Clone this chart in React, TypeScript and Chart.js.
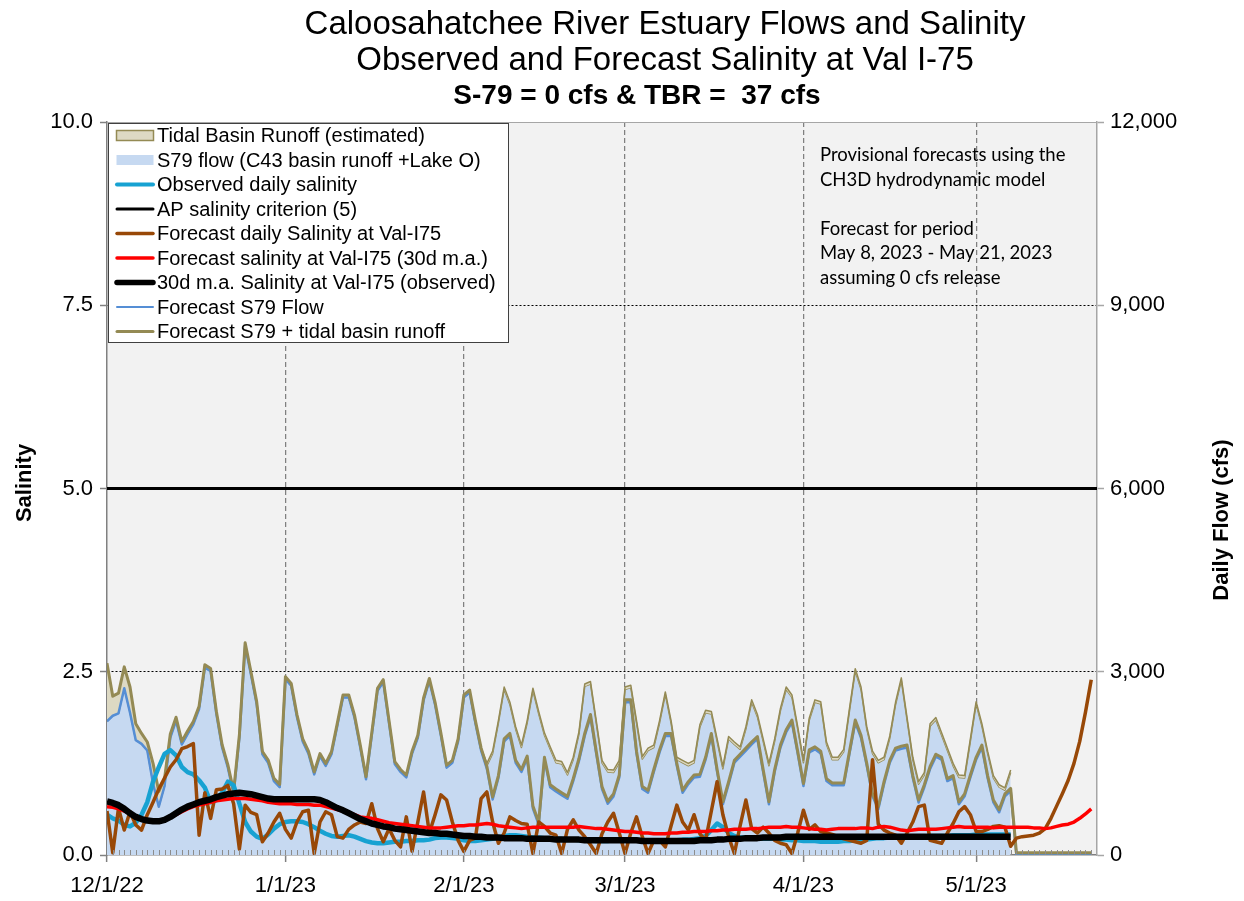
import React, { useEffect, useRef } from 'react';
import { Chart, registerables } from 'chart.js';

Chart.register(...registerables);

// ---------- data ----------
const monthTickDays = [0, 31, 62, 90, 121, 151];
const monthTickLabels = ['12/1/22', '1/1/23', '2/1/23', '3/1/23', '4/1/23', '5/1/23'];
const xMaxDay = 172;
const apCriterion = 5;
const forecastTbr = 37;

// observed S79 flow (cfs), day 0 = 12/1/22 .. day 157 = 5/7/23
const s79Flow = [
  2190, 2280, 2320, 2730, 2330, 1880, 1820, 1710, 1170, 790, 1130,
  1920, 2200, 1810, 1980, 2140, 2390, 3070, 3010, 2310, 1760, 1430, 1000, 1920, 3430, 2960, 2470, 1650, 1510, 1210, 1110,
  2880, 2770, 2260, 1860, 1660, 1320, 1620, 1460, 1650, 2110, 2580, 2580, 2250, 1760, 1240, 1960, 2690, 2830, 2160, 1490,
  1360, 1270, 1660, 1920, 2530, 2850, 2460, 1960, 1430, 1510, 1860, 2580, 2660, 2160, 1710, 1460, 1660, 2160, 2710, 2460,
  2060, 1760, 2160, 2690, 2310, 1960, 1730, 1510, 1490, 1310, 1560, 1980, 2760, 2800, 2160, 1510, 1360, 1350, 1510, 2710,
  2740, 2160, 1570, 1710, 1760, 2160, 2630, 2160, 1560, 1510, 1460, 1510, 2090, 2330, 2310, 1860, 1410, 1900, 1810, 1730,
  2060, 2500, 2260, 1860, 1460, 1860, 2360, 2710, 2580, 2060, 1510, 2200, 2500, 2470, 1810, 1560, 1560, 1690, 2360, 3010,
  2710, 2060, 1660, 1510, 1560, 1910, 2460, 2860, 2210, 1560, 1160, 1310, 2110, 2210, 1960, 1710, 1460, 1270, 1260, 1860,
  2470, 2110, 1660, 1260, 1110, 1060, 1350,
];

// tidal basin runoff (cfs), stacked on S79
const tbrFlow = [
  950, 320, 330, 350, 420, 270, 170, 140, 330, 250, 120,
  60, 55, 50, 50, 45, 45, 45, 45, 45, 45, 45, 45, 45, 45, 45, 45, 45, 45, 45, 45,
  40, 40, 40, 40, 40, 40, 40, 40, 40, 40, 40, 40, 40, 40, 40, 40, 40, 40, 40, 40,
  40, 40, 40, 40, 40, 40, 40, 40, 40, 40, 40, 40, 40, 40, 40, 40, 40, 40, 40, 40,
  40, 40, 40, 40, 40, 40, 40, 40, 40, 40, 40, 40, 40, 40, 40, 40, 40, 40, 40, 40,
  40, 40, 40, 40, 40, 40, 40, 40, 40, 40, 40, 40, 40, 40, 40, 40, 40, 40, 40, 40,
  40, 40, 40, 40, 40, 40, 40, 40, 40, 40, 40, 40, 40, 40, 40, 40, 40, 40, 40, 40,
  40, 40, 40, 40, 40, 40, 40, 40, 40, 40, 40, 40, 40, 40, 40, 40, 40, 40, 40, 40,
  40, 40, 40, 40, 40, 40, 40,
];

// forecast S79 flow, days 66 .. 171 (before day 66 it follows the observed flow)
const fcS79FlowLate = [
  1410, 910, 1260, 1860, 1950,
  1510, 1360, 1580, 760, 500, 1560, 1110, 1040, 980, 920,
  1210, 1540, 1950, 2260, 1660, 1080, 840, 960, 1270, 2500,
  2500, 1660, 1080, 1020, 1360, 1680, 1950, 1950, 1460, 1020,
  1160, 1270, 1280, 1560, 1950, 1360, 830, 1160, 1510, 1610,
  1710, 1810, 1900, 1360, 830, 1360, 1760, 2010, 2170, 1660,
  1130, 1680, 1730, 1660, 1210, 1140, 1140, 1140, 1660, 2170,
  1920, 1460, 960, 750, 1160, 1510, 1710, 1740, 1760, 1260,
  860, 1110, 1410, 1610, 1560, 1210, 1260, 830, 960, 1270,
  1560, 1760, 1260, 860, 700, 960, 1050,
  0, 0, 0, 0, 0, 0, 0, 0, 0, 0, 0, 0, 0, 0,
];

// observed daily salinity, days 0..157
const obsSalinity = [
  0.55, 0.50, 0.47, 0.41, 0.39, 0.44, 0.55, 0.72, 1.00, 1.20, 1.38,
  1.43, 1.36, 1.20, 1.13, 1.10, 1.02, 0.92, 0.72, 0.75, 0.85, 1.00, 0.95, 0.70, 0.45, 0.32, 0.25, 0.22, 0.28, 0.36, 0.42,
  0.45, 0.46, 0.46, 0.45, 0.42, 0.38, 0.33, 0.29, 0.26, 0.25, 0.26, 0.27, 0.25, 0.22, 0.19, 0.17, 0.16, 0.16, 0.17, 0.18,
  0.18, 0.19, 0.19, 0.20, 0.20, 0.21, 0.23, 0.24, 0.24, 0.23, 0.22, 0.20, 0.19, 0.19, 0.20, 0.21, 0.22, 0.24, 0.26, 0.27,
  0.27, 0.26, 0.25, 0.24, 0.24, 0.23, 0.23, 0.22, 0.22, 0.21, 0.21, 0.20, 0.20, 0.20, 0.19, 0.19, 0.19, 0.20, 0.20, 0.20,
  0.21, 0.21, 0.20, 0.20, 0.19, 0.19, 0.19, 0.20, 0.20, 0.21, 0.21, 0.22, 0.23, 0.26, 0.34, 0.43, 0.38, 0.30, 0.26, 0.24,
  0.24, 0.23, 0.23, 0.22, 0.22, 0.22, 0.21, 0.21, 0.20, 0.20, 0.19, 0.19, 0.19, 0.18, 0.18, 0.18, 0.18, 0.19, 0.19, 0.20,
  0.20, 0.21, 0.22, 0.23, 0.23, 0.24, 0.24, 0.24, 0.25, 0.25, 0.25, 0.25, 0.26, 0.26, 0.26, 0.26, 0.27, 0.27, 0.27, 0.27,
  0.28, 0.28, 0.28, 0.28, 0.28, 0.28, 0.28,
];

// observed 30-day moving average salinity, days 0..157
const obsSalinityMa = [
  0.73, 0.71, 0.68, 0.63, 0.57, 0.52, 0.49, 0.47, 0.46, 0.46, 0.48,
  0.52, 0.57, 0.62, 0.66, 0.69, 0.72, 0.74, 0.76, 0.79, 0.81, 0.83, 0.84, 0.85, 0.84, 0.83, 0.81, 0.79, 0.77, 0.76, 0.76,
  0.76, 0.76, 0.76, 0.76, 0.76, 0.76, 0.75, 0.72, 0.68, 0.64, 0.61, 0.57, 0.53, 0.49, 0.46, 0.43, 0.41, 0.39, 0.38, 0.36,
  0.35, 0.34, 0.33, 0.32, 0.31, 0.30, 0.30, 0.29, 0.29, 0.28, 0.27, 0.26, 0.26, 0.25, 0.25, 0.24, 0.24, 0.24, 0.23, 0.23,
  0.23, 0.23, 0.22, 0.22, 0.22, 0.22, 0.22, 0.21, 0.21, 0.21, 0.21, 0.21, 0.20, 0.20, 0.20, 0.20, 0.20, 0.20, 0.20, 0.20,
  0.20, 0.20, 0.19, 0.19, 0.19, 0.19, 0.19, 0.19, 0.19, 0.19, 0.19, 0.19, 0.20, 0.20, 0.20, 0.21, 0.21, 0.22, 0.22, 0.22,
  0.23, 0.23, 0.23, 0.24, 0.24, 0.24, 0.24, 0.25, 0.25, 0.25, 0.25, 0.25, 0.25, 0.25, 0.25, 0.25, 0.25, 0.25, 0.25, 0.25,
  0.25, 0.25, 0.25, 0.25, 0.25, 0.25, 0.25, 0.25, 0.25, 0.25, 0.25, 0.25, 0.25, 0.25, 0.25, 0.25, 0.25, 0.25, 0.25, 0.25,
  0.25, 0.25, 0.25, 0.25, 0.25, 0.25, 0.25,
];

// forecast daily salinity at Val-I75, days 0..171
const fcSalinity = [
  0.60, 0.03, 0.64, 0.34, 0.59, 0.41, 0.34, 0.55, 0.72, 0.90, 1.05,
  1.20, 1.30, 1.45, 1.48, 1.52, 0.27, 0.85, 0.50, 0.89, 0.90, 0.95, 0.70, 0.08, 0.68, 0.58, 0.55, 0.18, 0.30, 0.45, 0.57,
  0.35, 0.23, 0.45, 0.59, 0.61, 0.02, 0.45, 0.59, 0.55, 0.25, 0.23, 0.35, 0.41, 0.45, 0.43, 0.70, 0.36, 0.18, 0.36, 0.20,
  0.11, 0.52, 0.05, 0.45, 0.86, 0.30, 0.55, 0.82, 0.75, 0.45, 0.20, 0.05, 0.20, 0.23, 0.77, 0.86, 0.45, 0.16, 0.30, 0.52,
  0.47, 0.43, 0.42, 0.02, 0.45, 0.39, 0.30, 0.27, 0.02, 0.35, 0.48, 0.34, 0.25, 0.14, 0.02, 0.29, 0.45, 0.57, 0.30, 0.02,
  0.30, 0.52, 0.25, 0.02, 0.20, 0.20, 0.11, 0.40, 0.68, 0.45, 0.34, 0.55, 0.29, 0.20, 0.60, 1.00, 0.55, 0.25, 0.02, 0.40,
  0.75, 0.36, 0.30, 0.38, 0.30, 0.20, 0.16, 0.14, 0.02, 0.30, 0.61, 0.35, 0.41, 0.32, 0.30, 0.28, 0.25, 0.22, 0.20, 0.18,
  0.16, 0.20, 1.30, 0.42, 0.34, 0.30, 0.27, 0.16, 0.30, 0.45, 0.66, 0.68, 0.20, 0.18, 0.16, 0.30, 0.43, 0.59, 0.66, 0.55,
  0.32, 0.32, 0.35, 0.39, 0.40, 0.38, 0.12, 0.23, 0.25, 0.26, 0.27, 0.30, 0.36, 0.50, 0.67, 0.84, 1.02, 1.25, 1.55, 1.95, 2.39,
];

// forecast 30-day moving average salinity, days 0..171
const fcSalinityMa = [
  0.66, 0.65, 0.63, 0.60, 0.56, 0.53, 0.50, 0.48, 0.47, 0.46, 0.48,
  0.51, 0.55, 0.59, 0.63, 0.66, 0.68, 0.70, 0.72, 0.74, 0.75, 0.76, 0.77, 0.77, 0.77, 0.76, 0.75, 0.74, 0.72, 0.71, 0.70,
  0.70, 0.70, 0.69, 0.69, 0.69, 0.68, 0.68, 0.66, 0.64, 0.62, 0.60, 0.58, 0.55, 0.52, 0.51, 0.50, 0.48, 0.46, 0.44, 0.43,
  0.42, 0.41, 0.40, 0.39, 0.38, 0.37, 0.37, 0.37, 0.38, 0.39, 0.40, 0.40, 0.41, 0.41, 0.42, 0.43, 0.42, 0.40, 0.39, 0.38,
  0.37, 0.36, 0.37, 0.38, 0.38, 0.38, 0.38, 0.38, 0.38, 0.38, 0.38, 0.39, 0.38, 0.37, 0.36, 0.36, 0.35, 0.34, 0.33, 0.32,
  0.32, 0.31, 0.30, 0.30, 0.29, 0.29, 0.29, 0.30, 0.30, 0.31, 0.31, 0.32, 0.32, 0.32, 0.33, 0.33, 0.34, 0.34, 0.35, 0.35,
  0.35, 0.36, 0.36, 0.37, 0.38, 0.38, 0.38, 0.39, 0.38, 0.38, 0.37, 0.36, 0.35, 0.35, 0.34, 0.35, 0.36, 0.36, 0.36, 0.36,
  0.37, 0.37, 0.36, 0.38, 0.39, 0.38, 0.36, 0.34, 0.33, 0.34, 0.35, 0.35, 0.35, 0.35, 0.36, 0.37, 0.38, 0.39, 0.38, 0.38,
  0.38, 0.38, 0.38, 0.37, 0.38, 0.38, 0.38, 0.38, 0.38, 0.38, 0.37, 0.37, 0.36, 0.37, 0.39, 0.41, 0.42, 0.45, 0.50, 0.56, 0.63,
];

// ---------- text ----------
const titleLines = ['Caloosahatchee River Estuary Flows and Salinity', 'Observed and Forecast Salinity at Val I-75'];
const subTitle = 'S-79 = 0 cfs & TBR =  37 cfs';
const leftAxisTitle = 'Salinity';
const rightAxisTitle = 'Daily Flow (cfs)';
const noteLines = [
  'Provisional forecasts using the',
  'CH3D hydrodynamic model',
  '',
  'Forecast for period',
  'May 8, 2023 - May 21, 2023',
  'assuming 0 cfs release',
];

// ---------- styles ----------
const FF = '"Liberation Sans", Arial, Helvetica, sans-serif';
const C = {
  blueFill: '#c6d9f1',
  tan: '#ddd9c3',
  olive: '#948a54',
  blueLine: '#558ed5',
  cyan: '#17a2d2',
  brown: '#984807',
  red: '#ff0000',
  black: '#000000',
};

const legendItems = [
  { label: 'Tidal Basin Runoff (estimated)', kind: 'box', fill: C.tan, stroke: C.olive },
  { label: 'S79 flow (C43 basin runoff +Lake O)', kind: 'box', fill: C.blueFill, stroke: '' },
  { label: 'Observed daily salinity', kind: 'line', color: C.cyan, width: 4 },
  { label: 'AP salinity criterion (5)', kind: 'line', color: C.black, width: 3 },
  { label: 'Forecast daily Salinity at Val-I75', kind: 'line', color: C.brown, width: 3.5 },
  { label: 'Forecast salinity at Val-I75 (30d m.a.)', kind: 'line', color: C.red, width: 3.5 },
  { label: '30d m.a. Salinity at Val-I75 (observed)', kind: 'line', color: C.black, width: 5.5 },
  { label: 'Forecast S79 Flow', kind: 'line', color: C.blueLine, width: 2 },
  { label: 'Forecast S79 + tidal basin runoff', kind: 'line', color: C.olive, width: 3 },
];

const pts = (arr: number[]) => arr.map((v, i) => ({ x: i, y: v }));

const decorPlugin = {
  id: 'decor',
  beforeDraw(chart: any) {
    const { ctx, chartArea: a } = chart;
    ctx.save();
    ctx.fillStyle = '#ffffff';
    ctx.fillRect(0, 0, chart.width, chart.height);
    ctx.fillStyle = '#f2f2f2';
    ctx.fillRect(a.left, a.top, a.right - a.left, a.bottom - a.top);
    ctx.restore();
  },
  afterDatasetsDraw(chart: any) {
    const { ctx, chartArea: a } = chart;
    const xs = chart.scales.x;
    ctx.save();
    ctx.strokeStyle = '#a6a6a6';
    ctx.lineWidth = 1;
    ctx.beginPath();
    ctx.moveTo(a.left, a.top + 0.5);
    ctx.lineTo(a.right, a.top + 0.5);
    ctx.stroke();
    ctx.strokeStyle = '#8c8c8c';
    ctx.lineWidth = 1;
    ctx.beginPath();
    for (let d = 1; d < xMaxDay; d++) {
      const px = Math.round(xs.getPixelForValue(d)) + 0.5;
      ctx.moveTo(px, a.bottom);
      ctx.lineTo(px, a.bottom - 5);
    }
    ctx.stroke();
    ctx.restore();
  },
  afterDraw(chart: any) {
    const { ctx } = chart;
    ctx.save();
    ctx.fillStyle = '#000';
    ctx.textAlign = 'center';
    ctx.textBaseline = 'middle';
    ctx.font = `33px ${FF}`;
    ctx.fillText(titleLines[0], 665, 25);
    ctx.fillText(titleLines[1], 665, 61);
    ctx.font = `bold 28px ${FF}`;
    ctx.fillText(subTitle, 637, 96);

    ctx.font = `bold 22px ${FF}`;
    ctx.save();
    ctx.translate(25, 483);
    ctx.rotate(-Math.PI / 2);
    ctx.fillText(leftAxisTitle, 0, 0);
    ctx.restore();
    ctx.save();
    ctx.translate(1222, 520);
    ctx.rotate(-Math.PI / 2);
    ctx.fillText(rightAxisTitle, 0, 0);
    ctx.restore();

    // legend
    const bx = 108, by = 123, bw = 400, bh = 219;
    ctx.fillStyle = '#ffffff';
    ctx.fillRect(bx, by, bw, bh);
    ctx.strokeStyle = '#404040';
    ctx.lineWidth = 1;
    ctx.strokeRect(bx + 0.5, by + 0.5, bw, bh);
    ctx.font = `20px ${FF}`;
    ctx.textAlign = 'left';
    ctx.textBaseline = 'middle';
    legendItems.forEach((it: any, i: number) => {
      const cy = 135.5 + i * 24.5;
      if (it.kind === 'box') {
        ctx.fillStyle = it.fill;
        ctx.fillRect(116.5, cy - 5, 37, 10);
        if (it.stroke) {
          ctx.strokeStyle = it.stroke;
          ctx.lineWidth = 1.5;
          ctx.strokeRect(116.5, cy - 5, 37, 10);
        }
      } else {
        ctx.strokeStyle = it.color;
        ctx.lineWidth = it.width;
        ctx.lineCap = 'round';
        ctx.beginPath();
        ctx.moveTo(117, cy);
        ctx.lineTo(153, cy);
        ctx.stroke();
      }
      ctx.fillStyle = '#000';
      ctx.fillText(it.label, 157, cy + 1);
    });

    // note text
    ctx.font = `18.5px Lato, "Open Sans", sans-serif`;
    ctx.fillStyle = '#000';
    noteLines.forEach((t, i) => {
      if (t) ctx.fillText(t, 820, 155 + i * 24.6);
    });
    ctx.restore();
  },
};

export default function App() {
  const ref = useRef<HTMLCanvasElement>(null);
  useEffect(() => {
    const canvas = ref.current;
    if (!canvas) return;
    Chart.defaults.font.family = FF;
    const fcS79Flow = s79Flow.slice(0, 66).concat(fcS79FlowLate);
    const tbrTop = s79Flow.map((v, i) => ({ x: i, y: v + tbrFlow[i] }));
    const fcTotal = fcS79Flow.map((v, i) => ({ x: i, y: v + (i < tbrFlow.length ? tbrFlow[i] : forecastTbr) }));

    const chart = new Chart(canvas, {
      type: 'line',
      data: {
        datasets: [
          {
            label: 'S79 flow (C43 basin runoff +Lake O)',
            data: pts(s79Flow), yAxisID: 'y1', fill: 'origin',
            backgroundColor: C.blueFill, borderColor: C.olive, borderWidth: 1.5, order: 9,
          },
          {
            label: 'Tidal Basin Runoff (estimated)',
            data: tbrTop, yAxisID: 'y1', fill: '-1',
            backgroundColor: C.tan, borderColor: C.olive, borderWidth: 1.5, order: 8,
          },
          {
            label: 'Forecast S79 Flow',
            data: pts(fcS79Flow), yAxisID: 'y1', fill: false,
            borderColor: C.blueLine, borderWidth: 2.5, order: 7,
          },
          {
            label: 'Forecast S79 + tidal basin runoff',
            data: fcTotal, yAxisID: 'y1', fill: false,
            borderColor: C.olive, borderWidth: 3, order: 6,
          },
          {
            label: 'AP salinity criterion (5)',
            data: [{ x: 0, y: apCriterion }, { x: xMaxDay, y: apCriterion }], yAxisID: 'y', fill: false,
            borderColor: C.black, borderWidth: 3, order: 5,
          },
          {
            label: 'Observed daily salinity',
            data: pts(obsSalinity), yAxisID: 'y', fill: false,
            borderColor: C.cyan, borderWidth: 4.5, order: 4,
          },
          {
            label: 'Forecast daily Salinity at Val-I75',
            data: pts(fcSalinity), yAxisID: 'y', fill: false,
            borderColor: C.brown, borderWidth: 3.5, order: 3,
          },
          {
            label: 'Forecast salinity at Val-I75 (30d m.a.)',
            data: pts(fcSalinityMa), yAxisID: 'y', fill: false,
            borderColor: C.red, borderWidth: 3.5, order: 2,
          },
          {
            label: '30d m.a. Salinity at Val-I75 (observed)',
            data: pts(obsSalinityMa), yAxisID: 'y', fill: false,
            borderColor: C.black, borderWidth: 6.5, order: 1,
          },
        ],
      },
      options: {
        animation: false,
        responsive: false,
        devicePixelRatio: 1,
        events: [],
        layout: { padding: { top: 122, left: 0, right: 0, bottom: 0 } },
        elements: {
          point: { radius: 0 },
          line: { tension: 0, borderJoinStyle: 'round', borderCapStyle: 'butt' },
        },
        plugins: {
          legend: { display: false },
          tooltip: { enabled: false },
          title: { display: false },
        },
        scales: {
          x: {
            type: 'linear',
            min: 0,
            max: xMaxDay,
            afterFit: (s: any) => { s.height = 46; },
            afterBuildTicks: (s: any) => { s.ticks = monthTickDays.map((v) => ({ value: v })); },
            ticks: {
              autoSkip: false, maxRotation: 0, minRotation: 0, padding: 11, color: '#000',
              font: { size: 22, family: FF },
              callback: (_v: any, i: number) => monthTickLabels[i],
            },
            grid: {
              color: (c: any) => (c.tick && c.tick.value === 0 ? 'rgba(0,0,0,0)' : '#808080'),
              lineWidth: 1.25,
              tickLength: 7,
              tickColor: '#808080',
              tickWidth: 1.5,
              tickBorderDash: [],
            },
            border: { color: '#808080', width: 1.5, dash: [5, 3] },
          },
          y: {
            type: 'linear',
            position: 'left',
            min: 0,
            max: 10,
            afterFit: (s: any) => { s.width = 107; },
            ticks: {
              stepSize: 2.5, padding: 7, color: '#000', font: { size: 22, family: FF },
              callback: (v: any) => Number(v).toFixed(1),
            },
            grid: {
              color: (c: any) => (c.tick && c.tick.value > 0 && c.tick.value < 10 ? '#000000' : 'rgba(0,0,0,0)'),
              lineWidth: 1,
              tickLength: 7,
              tickColor: '#808080',
              tickWidth: 1.5,
              tickBorderDash: [],
            },
            border: { color: '#808080', width: 1.5, dash: [2, 2] },
          },
          y1: {
            type: 'linear',
            position: 'right',
            min: 0,
            max: 12000,
            afterFit: (s: any) => { s.width = 147; },
            ticks: {
              stepSize: 3000, padding: 6, color: '#000', font: { size: 22, family: FF },
              callback: (v: any) => Number(v).toLocaleString('en-US'),
            },
            grid: { drawOnChartArea: false, tickLength: 7, tickColor: '#a6a6a6', tickWidth: 1.5 },
            border: { color: '#a6a6a6', width: 1.5 },
          },
        },
      },
      plugins: [decorPlugin],
    } as any);
    return () => chart.destroy();
  }, []);

  return (
    <div style={{ position: 'fixed', left: 0, top: 0, width: 1244, height: 901, background: '#fff' }}>
      <canvas ref={ref} width={1244} height={901} style={{ display: 'block', width: 1244, height: 901 }} />
    </div>
  );
}
